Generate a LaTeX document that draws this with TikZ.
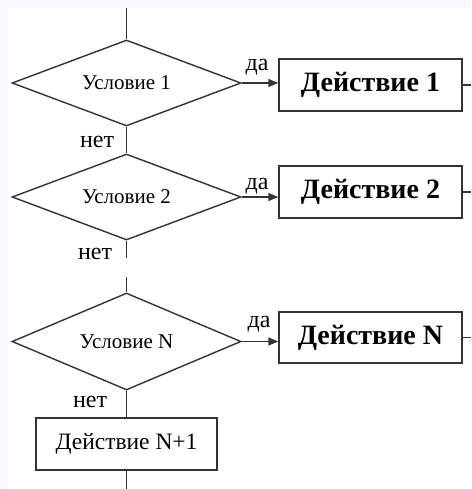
\documentclass[tikz,border=0pt]{standalone}
\usepackage{fontspec}
\setmainfont{Liberation Serif}
\usetikzlibrary{shapes.geometric,arrows.meta}

\definecolor{inkline}{HTML}{333333}
\definecolor{edgetint}{HTML}{F8F8FF}

\tikzset{
  cond/.style={draw=inkline, line width=1.4pt, shape=diamond, aspect=2.66, inner sep=0pt,
    minimum width=229pt, minimum height=86pt, font=\fontsize{21}{22}\selectfont},
  actbox/.style={draw=inkline, line width=1.4pt, rectangle, inner sep=0pt,
    minimum width=183pt, minimum height=52pt, font=\bfseries\fontsize{28}{30}\selectfont},
  lastbox/.style={draw=inkline, line width=1.4pt, rectangle, inner sep=0pt,
    minimum width=181pt, minimum height=52pt, font=\fontsize{23.5}{25}\selectfont},
  flow/.style={draw=inkline, line width=1.4pt},
  yesarrow/.style={flow, -{Triangle[length=10pt,width=8pt]}},
  tag/.style={inner sep=0pt, anchor=base, font=\fontsize{24}{26}\selectfont}
}

\begin{document}
\begin{tikzpicture}[x=1pt,y=-1pt]
  % canvas and the pale strips along the top and left edges
  \fill[white] (0,0) rectangle (471,489);
  \fill[edgetint] (0,0) rectangle (471,8);
  \fill[edgetint] (0,0) rectangle (8,489);
  \useasboundingbox (0,0) rectangle (471,489);

  % conditions
  \node[cond] (c1) at (126.5,83) {Условие 1};
  \node[cond] (c2) at (126.5,197) {Условие 2};
  \node[cond, minimum height=97pt] (cN) at (126.5,341.5) {Условие N};

  % actions
  \node[actbox] (a1) at (370.5,85) {Действие 1};
  \node[actbox] (a2) at (370.5,192) {Действие 2};
  \node[actbox, minimum height=51pt] (aN) at (370.5,337.5) {Действие N};
  \node[lastbox] (aL) at (126.5,444) {Действие N+1};

  % free ends of the connectors
  \coordinate (top) at (126.5,8);
  \coordinate (gapA) at (126.5,258);
  \coordinate (gapB) at (126.5,277);
  \coordinate (bottom) at (126.5,489);
  \coordinate (out1) at (471,85);
  \coordinate (out2) at (471,192);
  \coordinate (outN) at (471,337.5);

  % main vertical line
  \draw[flow] (top) -- (c1.north);
  \draw[flow] (c1.south) -- (c2.north);
  \draw[flow] (c2.south) -- (gapA);
  \draw[flow] (gapB) -- (cN.north);
  \draw[flow] (cN.south) -- (aL.north);
  \draw[flow] (aL.south) -- (bottom);

  % yes branches
  \draw[yesarrow] (c1.east) -- (c1.east -| a1.west);
  \draw[yesarrow] (c2.east) -- (c2.east -| a2.west);
  \draw[yesarrow] (cN.east) -- (cN.east -| aN.west);
  \draw[flow] (a1.east) -- (out1);
  \draw[flow] (a2.east) -- (out2);
  \draw[flow] (aN.east) -- (outN);

  % branch labels, placed by their baselines
  \node[tag] (y1) at (257,71) {да};
  \node[tag] (y2) at (257,189) {да};
  \node[tag] (yN) at (259,327) {да};
  \node[tag] (n1) at (97,147) {нет};
  \node[tag] (n2) at (95,259) {нет};
  \node[tag] (nN) at (90,407) {нет};
\end{tikzpicture}
\end{document}
